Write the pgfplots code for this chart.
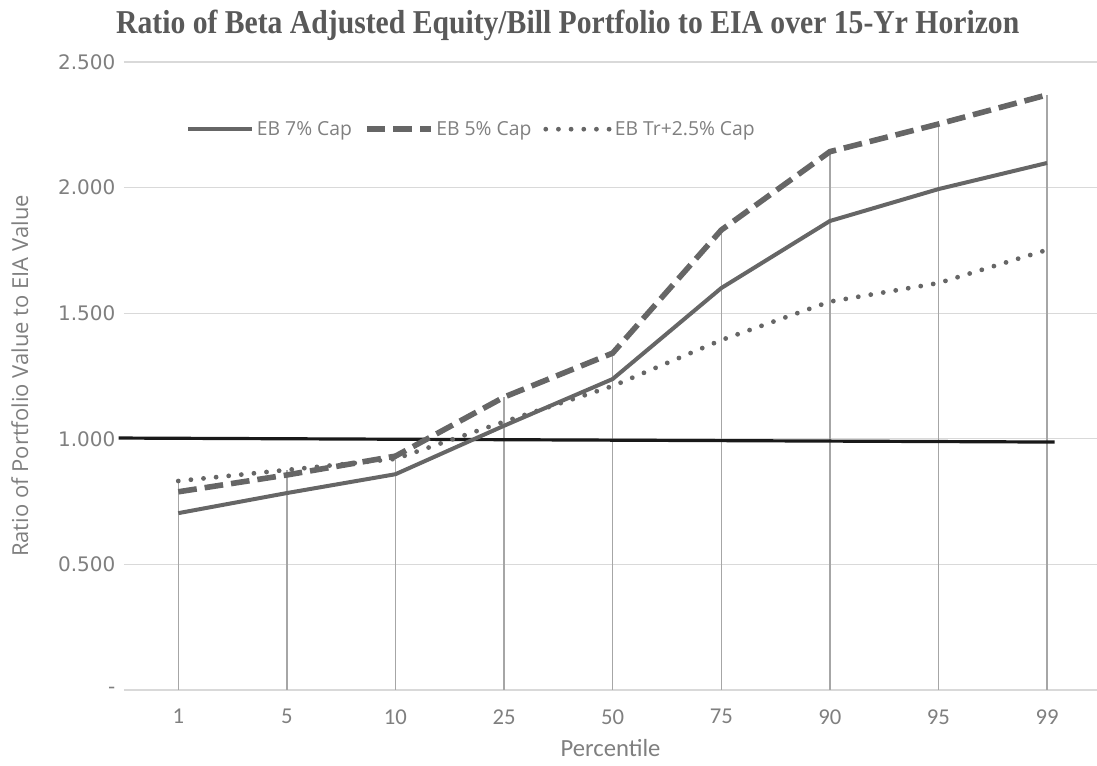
\documentclass[border=0pt]{standalone}
\usepackage{pgfplots}
\pgfplotsset{compat=1.18}
\usepackage{fontspec}
\setmainfont{Open Sans}
\newfontfamily\titlefont[FakeStretch=0.89]{Liberation Serif}
\newfontfamily\condfont{Carlito}
\newfontfamily\tickfont{DejaVu Sans}
\definecolor{txtc}{HTML}{7F7F7F}
\definecolor{ttlc}{HTML}{595959}
\definecolor{serc}{HTML}{666666}
\definecolor{gridc}{HTML}{D9D9D9}
\definecolor{dropc}{HTML}{A6A6A6}
\begin{document}
\begin{tikzpicture}
\path[use as bounding box] (-93pt,-57pt) rectangle (729.75pt,517.5pt);
\begin{axis}[
  scale only axis,
  width=729.75pt, height=471pt,
  xmin=-0.5, xmax=8.46,
  ymin=0, ymax=2.5,
  clip=false,
  axis line style={draw=none},
  major tick length=0pt,
  xtick=data,
  xticklabels={1,5,10,25,50,75,90,95,99},
  ytick={0,0.5,1,1.5,2,2.5},
  yticklabels={-,0.500,1.000,1.500,2.000,2.500},
  ymajorgrids,
  grid style={draw=gridc, line width=0.9pt},
  xticklabel style={font=\condfont\fontsize{17}{20}\selectfont, text=txtc, yshift=-11pt},
  yticklabel style={font=\tickfont\fontsize{15}{18}\selectfont, text=txtc, xshift=-3pt},
  xlabel={Percentile},
  xlabel style={font=\condfont\fontsize{18.5}{22}\selectfont, text=txtc, at={(axis description cs:0.5,0)}, anchor=center, yshift=-43.5pt},
  ylabel={Ratio of Portfolio Value to EIA Value},
  ylabel style={font=\fontsize{16.5}{19}\selectfont, text=txtc, at={(axis description cs:-0.107,0.5)}, anchor=center},
  title={Ratio of Beta Adjusted Equity/Bill Portfolio to EIA over 15-Yr Horizon},
  title style={font=\titlefont\bfseries\fontsize{25}{30}\selectfont, text=ttlc, at={(axis description cs:0.456,1)}, anchor=base, yshift=15pt},
  legend style={draw=none, fill=none, at={(axis description cs:0.0596,0.893)}, anchor=west,
    font=\fontsize{14.5}{17}\selectfont, text=txtc,
    /tikz/every even column/.append style={column sep=7pt}},
  legend columns=3,
  legend image code/.code={\draw[#1] (0pt,0pt) -- (48pt,0pt);},
]
% drop lines from highest series
\addplot[dropc, line width=1pt, ycomb, forget plot] coordinates {
 (0,0.832) (1,0.876) (2,0.935) (3,1.166) (4,1.341) (5,1.831) (6,2.143) (7,2.253) (8,2.369)};
% reference line
\addplot[black!90, line width=2.4pt, forget plot] coordinates {(-0.55,1.003) (8.07,0.987)};
\addplot[serc, line width=3pt] coordinates {
 (0,0.704) (1,0.784) (2,0.859) (3,1.052) (4,1.238) (5,1.600) (6,1.867) (7,1.994) (8,2.098)};
\addlegendentry{EB 7\% Cap}
\addplot[serc, line width=4.2pt, dash pattern=on 14pt off 6pt] coordinates {
 (0,0.789) (1,0.856) (2,0.931) (3,1.166) (4,1.341) (5,1.831) (6,2.143) (7,2.253) (8,2.369)};
\addlegendentry{EB 5\% Cap}
\addplot[serc, line width=3.6pt, line cap=round, dash pattern=on 0pt off 9.5pt] coordinates {
 (0,0.832) (1,0.876) (2,0.920) (3,1.068) (4,1.210) (5,1.393) (6,1.546) (7,1.620) (8,1.752)};
\addlegendentry{EB Tr+2.5\% Cap}
\end{axis}
\end{tikzpicture}
\end{document}
